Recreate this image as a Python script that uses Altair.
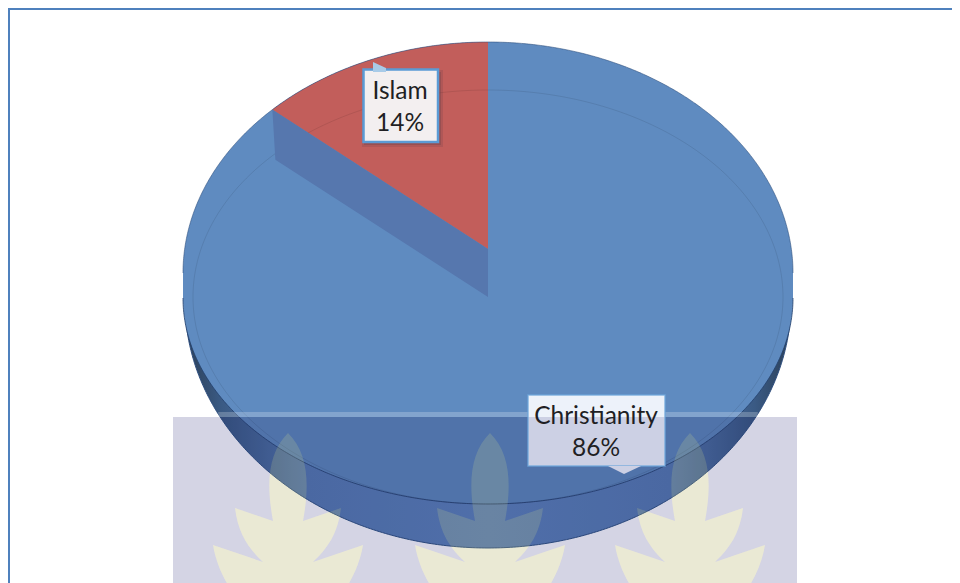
import math
import altair as alt
import numpy as np
import pandas as pd

# ---- chart values
categories = ["Christianity", "Islam"]
shares = [86, 14]
slice_colors = ["#5f8bc0", "#c25e5b"]

# ---- drawing geometry (page pixels, used as the domain of both scales)
CX, RX = 488.0, 305.0
TOP_CY, TOP_RY = 273.0, 231.0      # upper half of the rim
LOW_CY, LOW_RY = 298.0, 206.0      # lower half of the rim
INNER_CY, INNER_RX, INNER_RY = 297.0, 295.0, 207.0
SIDE_CY, SIDE_RX, SIDE_RY = 302.0, 303.0, 246.0
APEX_TOP, APEX_FLOOR = 249.0, 297.0
PERSPECTIVE = 0.827
BAND_Y = 417.0
LEAF_X = [288, 490, 690]
LEAF_Y = 533

XS = alt.Scale(domain=[8, 952], nice=False, zero=False)
YS = alt.Scale(domain=[583, 8], nice=False, zero=False)
X = alt.X("x:Q", scale=XS, axis=None)
Y = alt.Y("y:Q", scale=YS, axis=None)
X2 = alt.X2("x2:Q")
Y2 = alt.Y2("y2:Q")

theta = np.linspace(0, 2 * np.pi, 361)


def half(x, cx, rx, cy, ry, sign):
    return cy + sign * ry * np.sqrt(np.clip(1 - ((x - cx) / rx) ** 2, 0, 1))


def area(df, **mark):
    return alt.Chart(pd.DataFrame(df)).mark_area(clip=True, **mark).encode(x=X, y=Y, y2=Y2)


def rect(x, x2, y, y2, **mark):
    return alt.Chart(pd.DataFrame({"x": [x], "x2": [x2], "y": [y], "y2": [y2]})).mark_rect(clip=True, **mark).encode(
        x=X, x2=X2, y=Y, y2=Y2)


def path(xs, ys, **mark):
    d = pd.DataFrame({"x": xs, "y": ys, "i": range(len(xs))})
    return alt.Chart(d).mark_line(clip=True, **mark).encode(x=X, y=Y, order="i:Q")


# watermark
LEAF = ("M0,-1 C.2,-.8 .22,-.5 .15,-.12 L.53,-.25 C.5,0 .4,.15 .25,.29 L.75,.12 C.72,.3 .65,.45 .55,.6 "
        "L.55,1 L-.55,1 L-.55,.6 C-.65,.45 -.72,.3 -.75,.12 L-.25,.29 C-.4,.15 -.5,0 -.53,-.25 "
        "L-.15,-.12 C-.22,-.5 -.2,-.8 0,-1 Z")
leaf_df = pd.DataFrame({"x": LEAF_X, "y": [LEAF_Y] * 3})


def leaves(color, opacity):
    return alt.Chart(leaf_df).mark_point(
        shape=LEAF, size=40000, filled=True, color=color, opacity=opacity, clip=True
    ).encode(x=X, y=Y)


band = rect(173, 797, BAND_Y, 583, color="#d4d4e4")
leaves_under = leaves("#ebe8e4", 1)

# pie side
side_x = CX + SIDE_RX * np.cos(np.linspace(np.pi, 0, 301))
side = area(
    {"x": side_x, "y": [TOP_CY + 30] * len(side_x), "y2": half(side_x, CX, SIDE_RX, SIDE_CY, SIDE_RY, 1)},
    color=alt.Gradient(
        gradient="linear", x1=0, x2=1, y1=0, y2=0,
        stops=[
            alt.GradientStop(offset=0, color="#2c4058"),
            alt.GradientStop(offset=0.06, color="#3a5a84"),
            alt.GradientStop(offset=0.2, color="#587eb6"),
            alt.GradientStop(offset=0.5, color="#5f86bf"),
            alt.GradientStop(offset=0.8, color="#587eb6"),
            alt.GradientStop(offset=0.94, color="#3a5a84"),
            alt.GradientStop(offset=1, color="#2c4058"),
        ],
    ),
)
side_line = path(side_x, half(side_x, CX, SIDE_RX, SIDE_CY, SIDE_RY, 1), color="#2f4f80", strokeWidth=1)

# pie top
top_x = CX + RX * np.cos(np.linspace(np.pi, 0, 401))
top_up = half(top_x, CX, RX, TOP_CY, TOP_RY, -1)
top_lo = half(top_x, CX, RX, LOW_CY, LOW_RY, 1)
top = area({"x": top_x, "y": top_up, "y2": top_lo}, color=slice_colors[0])

# Islam slice, measured clockwise from twelve o'clock
share_angle = shares[1] / sum(shares) * 2 * math.pi
rim_angle = math.atan(math.tan(share_angle) * PERSPECTIVE)
rim_x = CX - RX * math.sin(rim_angle)
rim_y = TOP_CY - TOP_RY * math.cos(rim_angle)
floor_x = rim_x + 3
floor_y = rim_y + 50
wedge_x = np.linspace(rim_x, CX, 160)
edge_y = rim_y + (wedge_x - rim_x) / (CX - rim_x) * (APEX_TOP - rim_y)
wedge = area({"x": wedge_x, "y": half(wedge_x, CX, RX, TOP_CY, TOP_RY, -1), "y2": edge_y}, color=slice_colors[1])

inner = path(CX + INNER_RX * np.sin(theta), INNER_CY - INNER_RY * np.cos(theta),
             color="#000000", opacity=0.09, strokeWidth=1)

wall_x = [rim_x, floor_x, CX]
wall_top = [rim_y, rim_y + 3 / (CX - rim_x) * (APEX_TOP - rim_y), APEX_TOP]
wall_bot = [rim_y, floor_y, APEX_FLOOR]
wall = area({"x": wall_x, "y": wall_top, "y2": wall_bot}, color="#5677ae")

rim_up = path(top_x, top_up, color="#2a4a78", opacity=0.55, strokeWidth=1)
rim_lo = path(top_x, top_lo, color="#23406c", opacity=0.8, strokeWidth=1)

# watermark showing over the pie
dx = SIDE_RX * math.sqrt(1 - ((BAND_Y - SIDE_CY) / SIDE_RY) ** 2)
over_x = np.linspace(CX - dx, CX + dx, 260)
over = area({"x": over_x, "y": [BAND_Y] * len(over_x), "y2": half(over_x, CX, SIDE_RX, SIDE_CY, SIDE_RY, 1)},
            color="#141455", opacity=0.2)
stripe = rect(CX - dx - 2, CX + dx + 2, 412, BAND_Y, color="#ffffff", opacity=0.22)
leaves_over = leaves("#e6f08a", 0.17)

# callouts
isl_shadow = [
    rect(362, 443, 70, 147, color="#6d4148", opacity=0.22),
    rect(364, 441, 72, 145, color="#6d4148", opacity=0.35),
]
isl_tip = area({"x": [373, 373, 386], "y": [62, 62, 68], "y2": [62, 72, 72]}, color="#a9cbe8")
isl_box = rect(363.5, 438, 69.5, 142, color="#f3eff0", stroke="#5b9bd5", strokeWidth=2.5)
chr_tip = area({"x": [608, 624, 641], "y": [466, 466, 466], "y2": [466, 474, 466]}, color="#ccd0e4")
chr_up = rect(528, 665, 395, BAND_Y, color="#edf2fa")
chr_lo = rect(528, 665, BAND_Y, 466, color="#ccd0e4")
chr_line = rect(528, 665, 395, 466, fillOpacity=0, stroke="#6ea6dc", strokeWidth=1.5, opacity=0.8)

label_rows = [
    {"x": 596, "y": 417, "t": categories[0]},
    {"x": 596, "y": 449, "t": f"{shares[0]}%"},
    {"x": 400, "y": 92, "t": categories[1]},
    {"x": 400, "y": 124, "t": f"{shares[1]}%"},
]
labels = alt.Chart(pd.DataFrame(label_rows)).mark_text(
    font="Lato", fontSize=24.5, color="#1f1f24", align="center", baseline="middle"
).encode(x=X, y=Y, text="t:N")

# slide frame
frame = [
    rect(8, 952, 6, 10, color="#4f81bd"),
    rect(8, 10, 6, 583, color="#4f81bd"),
]

chart = alt.layer(
    band, leaves_under, side, side_line, top, wedge, inner, wall, rim_up, rim_lo,
    over, leaves_over, stripe,
    *isl_shadow, isl_box, isl_tip, chr_up, chr_lo, chr_line, chr_tip, labels, *frame,
).properties(width=944, height=575, padding=0, background="#ffffff").configure_view(stroke=None)

chart.save("out.html", embed_options={"renderer": "svg", "actions": False})
